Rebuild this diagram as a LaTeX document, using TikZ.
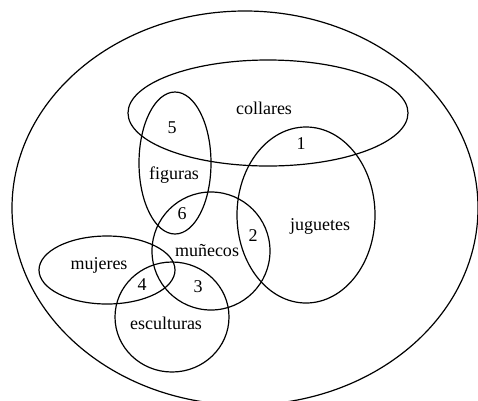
\documentclass[tikz,border=0pt]{standalone}
\usepackage{fontspec}
\setmainfont{Liberation Serif}
\begin{document}
\begin{tikzpicture}[x=1pt,y=-1pt,
  set/.style={draw=black,line width=1.2pt},
  lbl/.style={font=\fontsize{18}{20}\selectfont,inner sep=0pt}]
\useasboundingbox (0,0) rectangle (478,400);
\draw[set] (245,208) ellipse [x radius=233, y radius=197];
\draw[set] (268,113) ellipse [x radius=140, y radius=53];
\draw[set] (175,163) ellipse [x radius=36, y radius=71];
\draw[set] (306,215) ellipse [x radius=69, y radius=88];
\draw[set] (211,251) ellipse [x radius=59, y radius=59];
\draw[set] (107,270) ellipse [x radius=68, y radius=34];
\draw[set] (172,317) ellipse [x radius=57, y radius=55];
\node[lbl] (collares) at (264,108) {collares};
\node[lbl] (n5) at (172,128) {5};
\node[lbl] (n1) at (301,144) {1};
\node[lbl] (figuras) at (174,175) {figuras};
\node[lbl] (n6) at (182,214) {6};
\node[lbl] (n2) at (253,236) {2};
\node[lbl] (juguetes) at (320,226) {juguetes};
\node[lbl] (munecos) at (207,251) {muñecos};
\node[lbl] (mujeres) at (99,265) {mujeres};
\node[lbl] (n4) at (142,285) {4};
\node[lbl] (n3) at (198,287) {3};
\node[lbl] (esculturas) at (166,323) {esculturas};
\end{tikzpicture}
\end{document}
